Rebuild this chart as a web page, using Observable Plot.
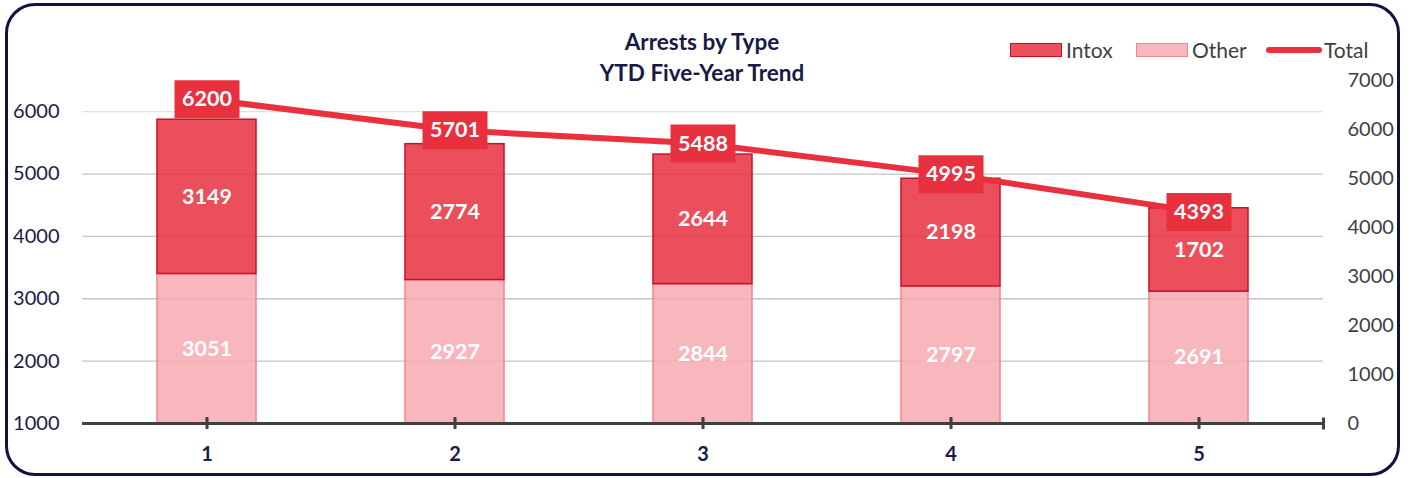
<!DOCTYPE html>
<html>
<head>
<meta charset="utf-8">
<script src="https://cdn.jsdelivr.net/npm/d3@7"></script>
<script src="https://cdn.jsdelivr.net/npm/@observablehq/plot@0.6"></script>
<style>
  html, body { margin: 0; padding: 0; background: #fff; }
  #wrap { position: relative; width: 1413px; height: 478px; font-family: Lato, "Open Sans", sans-serif; overflow: hidden; }
  #chart { position: absolute; left: 0; top: 0; }
  #border { position: absolute; left: 5px; top: 3px; width: 1395px; height: 473px; box-sizing: border-box; border: 3px solid #10133f; border-radius: 30px; pointer-events: none; }
  #title { position: absolute; left: 452px; width: 500px; top: 26px; text-align: center; font-weight: bold; font-size: 22.5px; line-height: 31px; color: #161a45; }
  .lg { position: absolute; }
  .sw { top: 43px; width: 52px; height: 14px; box-sizing: border-box; border: 1.5px solid; }
  .ln { top: 47px; left: 1266px; width: 56px; height: 6px; border-radius: 3px; background: #e8303f; }
  .lt { top: 36px; line-height: 28px; font-size: 21px; color: #404040; }
</style>
</head>
<body>
<div id="wrap">
  <div id="chart"></div>
  <div id="title">Arrests by Type<br>YTD Five-Year Trend</div>
  <div class="lg sw" style="left:1010px;background:#eb4f5c;border-color:#c8102e"></div>
  <div class="lg lt" style="left:1066px">Intox</div>
  <div class="lg sw" style="left:1136px;background:#f7b7bd;border-color:#f08590"></div>
  <div class="lg lt" style="left:1192px">Other</div>
  <div class="lg ln"></div>
  <div class="lg lt" style="left:1324px">Total</div>
  <div id="border"></div>
</div>
<script>
const years = [1, 2, 3, 4, 5];
const intox = [3149, 2774, 2644, 2198, 1702];
const other = [3051, 2927, 2844, 2797, 2691];
const total = [6200, 5701, 5488, 4995, 4393];
const leftTicks = [1000, 2000, 3000, 4000, 5000, 6000];
const rightTicks = [0, 1000, 2000, 3000, 4000, 5000, 6000, 7000];
const leftDomain = [1000, 6500];
const rightDomain = [0, 7000];

// map left-axis (Total) values onto the right-axis (bars) scale
const toRight = v => (v - leftDomain[0]) * (rightDomain[1] - rightDomain[0]) / (leftDomain[1] - leftDomain[0]) + rightDomain[0];
const fromRight = v => Math.round((v - rightDomain[0]) * (leftDomain[1] - leftDomain[0]) / (rightDomain[1] - rightDomain[0]) + leftDomain[0]);

const data = years.map((yr, i) => ({
  yr, intox: intox[i], other: other[i], total: total[i],
  stackTop: other[i] + intox[i],
  intoxMid: other[i] + intox[i] / 2,
  otherMid: other[i] / 2,
  totalR: toRight(total[i])
}));

const boxSymbol = { draw(ctx) { ctx.rect(-32.5, -19, 65, 38); } };
const endTick = { draw(ctx) { ctx.rect(-1.5, -6, 3, 12); } };

const chart = Plot.plot({
  width: 1413,
  height: 478,
  marginTop: 80,
  marginBottom: 55,
  marginLeft: 82,
  marginRight: 90,
  style: { fontFamily: "Lato, 'Open Sans', sans-serif", background: "transparent", fontSize: "20px" },
  x: { type: "band", domain: years, paddingInner: 0.6, paddingOuter: 0.3 },
  y: { domain: rightDomain },
  marks: [
    Plot.ruleY(leftTicks.slice(1, -1).map(toRight), { stroke: "#c4c4c4", strokeWidth: 1.3 }),
    Plot.ruleY(leftTicks.slice(-1).map(toRight), { stroke: "#e0e0e0", strokeWidth: 1.3 }),
    Plot.barY(data, { x: "yr", y1: 0, y2: "other", fill: "#f6aab1", fillOpacity: 0.85, stroke: "#f08590", strokeWidth: 1.5 }),
    Plot.barY(data, { x: "yr", y1: "other", y2: "stackTop", fill: "#e8303f", fillOpacity: 0.85, stroke: "#c8102e", strokeWidth: 1.5 }),
    Plot.ruleY([0], { stroke: "#404040", strokeWidth: 3 }),
    Plot.ruleX(data, { x: "yr", y1: 0, y2: 0, insetTop: 6, insetBottom: 6, stroke: "#404040", strokeWidth: 3 }),
    Plot.dot([0], { y: d => d, frameAnchor: "right", symbol: endTick, fill: "#404040", stroke: "none" }),
    Plot.text(data, { x: "yr", y: "otherMid", text: d => String(d.other), fill: "white", fontWeight: "bold", fontSize: 21.5 }),
    Plot.text(data, { x: "yr", y: "intoxMid", text: d => String(d.intox), fill: "white", fontWeight: "bold", fontSize: 21.5 }),
    Plot.line(data, { x: "yr", y: "totalR", stroke: "#e8303f", strokeWidth: 6 }),
    Plot.dot(data, { x: "yr", y: "totalR", symbol: boxSymbol, fill: "#e8303f", stroke: "none" }),
    Plot.text(data, { x: "yr", y: "totalR", text: d => String(d.total), fill: "white", fontWeight: "bold", fontSize: 21.5 }),
    Plot.axisY(leftTicks.map(toRight), { anchor: "left", tickSize: 0, tickPadding: 23, tickFormat: d => String(fromRight(d)), fill: "#1b1b45", fontSize: 20, label: null }),
    Plot.axisY(rightTicks, { anchor: "right", tickSize: 0, tickPadding: 24, tickFormat: d => String(d), fill: "#404040", fontSize: 20, label: null }),
    Plot.axisX({ anchor: "bottom", tickSize: 0, tickPadding: 23, fontWeight: "bold", fill: "#1b1b45", fontSize: 20, label: null })
  ]
});
document.getElementById("chart").appendChild(chart);
</script>
</body>
</html>
